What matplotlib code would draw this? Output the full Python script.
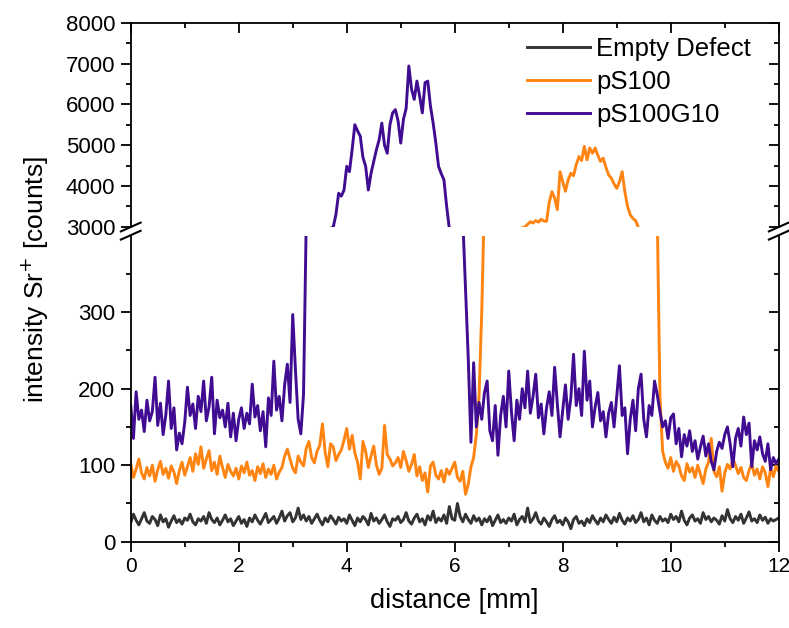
import numpy as np
import matplotlib
matplotlib.use('Agg')
import matplotlib.pyplot as plt
from matplotlib.lines import Line2D

plt.rcParams['font.family'] = ['Liberation Sans', 'DejaVu Sans']

# distance grid (mm), one sample every 0.05 mm
distance = np.linspace(0, 12, 241)

empty_defect = [
    25, 36, 28, 22, 30, 38, 27, 24, 33, 29, 21, 35, 26, 30, 19, 27, 34, 25, 29,
    23, 31, 28, 36, 26, 22, 30, 27, 33, 24, 38, 29, 25, 31, 22, 28, 35, 26, 30, 21,
    27, 33, 24, 29, 20, 31, 26, 35, 28, 23, 30, 37, 25, 29, 33, 24, 31, 40, 27, 34,
    38, 26, 31, 44, 29, 35, 27, 33, 24, 30, 36, 28, 22, 31, 26, 34, 29, 23, 32, 27,
    30, 24, 35, 28, 21, 31, 26, 33, 29, 22, 37, 27, 31, 24, 29, 35, 26, 20, 30, 28,
    33, 25, 29, 38, 27, 23, 31, 36, 26, 30, 22, 34, 28, 40, 25, 31, 27, 35, 24, 46,
    30, 28, 50, 33, 26, 36, 29, 24, 34, 27, 31, 22, 30, 26, 33, 21, 28, 35, 25, 29,
    24, 31, 27, 36, 22, 29, 33, 26, 44, 25, 30, 38, 27, 23, 31, 26, 20, 29, 34, 25,
    28, 22, 31, 26, 17, 29, 33, 24, 27, 21, 30, 25, 34, 28, 23, 31, 26, 35, 29, 24,
    32, 26, 37, 28, 23, 31, 27, 34, 25, 29, 38, 26, 31, 22, 35, 28, 24, 33, 27, 30,
    25, 36, 29, 33, 26, 40, 28, 22, 31, 35, 27, 30, 24, 38, 29, 33, 26, 31, 28, 23,
    34, 27, 42, 30, 25, 33, 28, 36, 24, 31, 39, 27, 30, 25, 35, 28, 32, 24, 30, 27,
    29, 31]

ps100 = [
    102, 84, 95, 108, 90, 82, 97, 86, 100, 79, 94, 105, 88, 96, 83, 99, 91, 76, 93,
    104, 87, 98, 110, 92, 115, 101, 124, 96, 108, 119, 93, 104, 88, 112, 97, 84, 101, 92, 86,
    96, 82, 99, 90, 104, 87, 93, 80, 98, 89, 102, 84, 95, 88, 100, 82, 91, 97, 112, 121,
    108, 96, 90, 112, 104, 99, 122, 131, 110, 103, 118, 126, 154, 117, 98, 128, 124, 106, 114, 120,
    133, 148, 121, 139, 116, 104, 82, 131, 118, 97, 112, 125, 100, 88, 96, 152, 114, 108, 99, 103,
    110, 97, 118, 106, 92, 101, 114, 86, 98, 80, 90, 65, 99, 104, 87, 82, 93, 78, 95, 88,
    96, 104, 84, 79, 92, 62, 75, 98, 110, 140, 190, 300, 450, 800, 1300, 1800, 2200, 2450, 2600, 2700,
    2780, 2830, 2870, 2900, 2930, 2950, 2970, 2995, 3060, 3120, 3090, 3150, 3110, 3180, 3140, 3130, 3600, 3860, 3700, 3420,
    4350, 4100, 3870, 4150, 4310, 4250, 4520, 4720, 4620, 4970, 4640, 4930, 4800, 4930, 4750, 4600, 4680, 4450, 4270, 4190,
    4050, 3940, 4100, 4350, 3860, 3500, 3290, 3200, 3150, 2980, 2700, 2300, 1900, 1500, 1100, 750, 430, 190, 118, 104,
    96, 110, 92, 105, 99, 86, 80, 102, 91, 97, 84, 100, 88, 76, 95, 104, 135, 92, 85, 98,
    66, 90, 101, 95, 108, 100, 89, 97, 84, 80, 93, 102, 87, 95, 82, 98, 90, 72, 96, 85,
    99, 92]

ps100g10 = [
    178, 135, 196, 160, 172, 144, 185, 158, 170, 215, 152, 181, 140, 166, 210, 148, 175, 120, 142,
    128, 156, 202, 165, 180, 148, 190, 170, 210, 158, 176, 215, 141, 185, 162, 172, 150, 181, 137, 168,
    132, 160, 175, 148, 168, 154, 206, 163, 178, 145, 170, 124, 188, 165, 236, 172, 190, 158, 205, 232,
    182, 297, 225, 160, 141, 193, 420, 900, 1500, 2000, 2400, 2650, 2800, 2880, 2930, 2960, 2990, 3300, 3820, 3750,
    3900, 4480, 4350, 4890, 5500, 5350, 5220, 4700, 4480, 3900, 4310, 4600, 4890, 5130, 5540, 5000, 4800, 5500, 5790, 5870,
    5600, 5050, 5630, 5900, 6940, 6370, 6120, 6570, 6200, 5790, 6530, 6570, 5960, 5540, 5050, 4480, 4300, 4150, 3500, 2950,
    2600, 2000, 1400, 800, 420, 330, 240, 130, 234, 150, 182, 160, 195, 210, 145, 132, 178, 113, 165, 190,
    150, 223, 170, 132, 185, 160, 200, 175, 223, 168, 190, 219, 162, 180, 141, 175, 196, 165, 228, 180,
    137, 172, 205, 160, 188, 245, 178, 200, 165, 249, 185, 210, 150, 176, 195, 158, 170, 137, 168, 182,
    150, 190, 230, 165, 175, 115, 160, 185, 145, 200, 219, 160, 137, 178, 165, 210, 192, 170, 150, 158,
    135, 162, 167, 128, 148, 111, 140, 125, 145, 118, 132, 108, 124, 138, 112, 128, 105, 94, 118, 130,
    122, 140, 150, 128, 98, 135, 148, 125, 163, 140, 155, 98, 132, 120, 137, 115, 105, 128, 94, 110,
    102, 108]

labels = ['Empty Defect', 'pS100', 'pS100G10']
colors = ['#333333', '#FF8411', '#400C92']
series = [empty_defect, ps100, ps100g10]

fig = plt.figure(figsize=(7.89, 6.28), dpi=100)
ax_top = fig.add_axes([0.1657, 0.639, 0.8213, 0.3248])
ax_bot = fig.add_axes([0.1657, 0.1374, 0.8213, 0.4873], sharex=ax_top)

for ax in (ax_top, ax_bot):
    for lab, col, y in zip(labels, colors, series):
        ax.plot(distance, y, color=col, lw=2.1, label=lab)
    ax.set_xlim(0, 12)
    for sp in ax.spines.values():
        sp.set_linewidth(1.3)

ax_top.set_ylim(3000, 8000)
ax_bot.set_ylim(0, 400)
ax_top.spines['bottom'].set_visible(False)
ax_bot.spines['top'].set_visible(False)

ax_top.set_yticks(np.arange(3000, 8001, 1000))
ax_top.set_yticks(np.arange(3500, 8000, 1000), minor=True)
ax_bot.set_yticks([0, 100, 200, 300])
ax_bot.set_yticks([50, 150, 250, 350], minor=True)
ax_bot.set_xticks(np.arange(0, 13, 2))
ax_bot.set_xticks(np.arange(1, 12, 2), minor=True)

tick_kw = dict(width=1.3, pad=4)
ax_top.tick_params(axis='x', which='both', bottom=False, labelbottom=False,
                   top=True, direction='in', **tick_kw)
ax_top.tick_params(axis='y', which='both', left=True, right=True, labelsize=16, **tick_kw)
ax_bot.tick_params(axis='x', which='both', top=False, direction='out', labelsize=15, **tick_kw)
ax_bot.tick_params(axis='y', which='both', left=True, right=True, labelsize=16, **tick_kw)
for ax in (ax_top, ax_bot):
    ax.tick_params(which='major', length=7)
    ax.tick_params(which='minor', length=3.5)
    for t in ax.yaxis.get_major_ticks() + ax.yaxis.get_minor_ticks():
        t.tick1line.set_marker(matplotlib.markers.TICKLEFT)
        t.tick2line.set_marker(matplotlib.markers.TICKLEFT)

ax_bot.set_xlabel('distance [mm]', fontsize=19.5, labelpad=9)
fig.text(0.045, 0.555, 'intensity Sr$^{+}$ [counts]', rotation=90,
         fontsize=19, ha='center', va='center')

# break marks on both vertical axes
for xs in (0.1657, 0.9870):
    for yc in (0.6385, 0.6255):
        fig.add_artist(Line2D([xs - 0.0125, xs + 0.0125], [yc - 0.007, yc + 0.007],
                              color='black', lw=1.5, transform=fig.transFigure))

ax_top.legend(loc='upper left', bbox_to_anchor=(0.6615, 0.949), bbox_transform=fig.transFigure,
              frameon=False, fontsize=18.5, handlelength=2.45, handletextpad=0.25,
              labelspacing=0.34, borderpad=0.2, borderaxespad=0)

fig.savefig('out.png', dpi=100)
